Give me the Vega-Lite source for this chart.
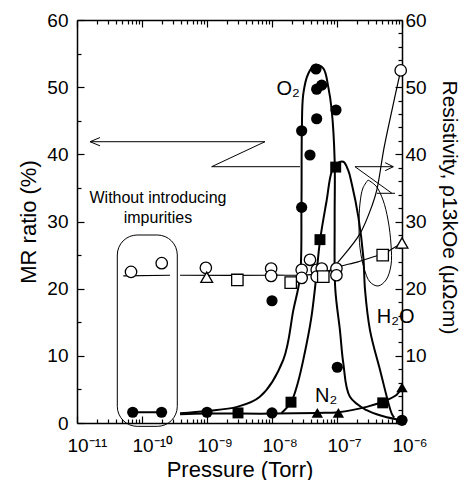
{
  "$schema": "https://vega.github.io/schema/vega-lite/v6.json",
  "width": 325,
  "height": 403,
  "autosize": {"type": "none"},
  "padding": {"left": 77, "top": 20, "right": 59, "bottom": 57},
  "background": "white",
  "config": {
    "view": {"stroke": null},
    "font": "Liberation Sans",
    "axis": {
      "grid": false,
      "domainColor": "black",
      "domainWidth": 1.5,
      "tickColor": "black",
      "tickWidth": 1.2,
      "labelColor": "black",
      "titleColor": "black",
      "labelFont": "Liberation Sans",
      "titleFont": "Liberation Sans",
      "labelFontSize": 19,
      "titleFontSize": 22,
      "titleFontWeight": "normal",
      "labelOverlap": false,
      "labelFlush": false
    }
  },
  "resolve": {"scale": {"x": "independent", "y": "independent"}},
  "datasets": {
    "pts": [
      {"s": "O2", "p": 7.2e-11, "v": 1.6},
      {"s": "O2", "p": 2.0e-10, "v": 1.6},
      {"s": "O2", "p": 1.0e-9, "v": 1.6},
      {"s": "O2", "p": 1.0e-8, "v": 1.5},
      {"s": "O2", "p": 1.0e-8, "v": 18.2},
      {"s": "O2", "p": 2.86e-8, "v": 32.1},
      {"s": "O2", "p": 3.84e-8, "v": 39.9},
      {"s": "O2", "p": 2.86e-8, "v": 43.5},
      {"s": "O2", "p": 4.87e-8, "v": 45.3},
      {"s": "O2", "p": 4.75e-8, "v": 52.7},
      {"s": "O2", "p": 5.82e-8, "v": 50.3},
      {"s": "O2", "p": 4.87e-8, "v": 49.7},
      {"s": "O2", "p": 9.65e-8, "v": 46.6},
      {"s": "O2", "p": 1.01e-7, "v": 8.3},
      {"s": "O2", "p": 1.0e-6, "v": 0.4},
      {"s": "H2O", "p": 3.0e-9, "v": 1.5},
      {"s": "H2O", "p": 1.96e-8, "v": 3.1},
      {"s": "H2O", "p": 5.47e-8, "v": 27.3},
      {"s": "H2O", "p": 9.55e-8, "v": 38.1},
      {"s": "H2O", "p": 5.05e-7, "v": 3.0},
      {"s": "N2", "p": 4.98e-8, "v": 1.5},
      {"s": "N2", "p": 1.05e-7, "v": 1.5},
      {"s": "N2", "p": 1.0e-6, "v": 5.3},
      {"s": "rO2", "p": 6.78e-11, "v": 22.5},
      {"s": "rO2", "p": 2.01e-10, "v": 23.8},
      {"s": "rO2", "p": 9.6e-10, "v": 23.1},
      {"s": "rO2", "p": 9.7e-9, "v": 23.0},
      {"s": "rO2", "p": 9.7e-9, "v": 21.9},
      {"s": "rO2", "p": 2.86e-8, "v": 22.8},
      {"s": "rO2", "p": 2.86e-8, "v": 21.6},
      {"s": "rO2", "p": 3.84e-8, "v": 24.3},
      {"s": "rO2", "p": 4.87e-8, "v": 22.8},
      {"s": "rO2", "p": 4.87e-8, "v": 21.8},
      {"s": "rO2", "p": 5.82e-8, "v": 23.0},
      {"s": "rO2", "p": 9.8e-8, "v": 23.0},
      {"s": "rO2", "p": 9.8e-8, "v": 22.0},
      {"s": "rO2", "p": 9.55e-7, "v": 52.5},
      {"s": "rH2O", "p": 2.93e-9, "v": 21.3},
      {"s": "rH2O", "p": 1.94e-8, "v": 20.9},
      {"s": "rH2O", "p": 6.15e-8, "v": 21.8},
      {"s": "rH2O", "p": 5.05e-7, "v": 25.0},
      {"s": "rN2", "p": 9.9e-10, "v": 21.7},
      {"s": "rN2", "p": 1.0e-6, "v": 26.8}
    ],
    "curves": [
      {"c": "O2a", "o": 1, "p": 6.15e-11, "v": 1.6},
      {"c": "O2a", "o": 2, "p": 2.0e-10, "v": 1.6},
      {"c": "O2", "o": 1, "p": 3.85e-10, "v": 1.45},
      {"c": "O2", "o": 2, "p": 9.9e-10, "v": 1.8},
      {"c": "O2", "o": 3, "p": 2.9e-9, "v": 2.4},
      {"c": "O2", "o": 4, "p": 6.5e-9, "v": 3.9},
      {"c": "O2", "o": 5, "p": 1.49e-8, "v": 9.4},
      {"c": "O2", "o": 6, "p": 2.13e-8, "v": 16.8},
      {"c": "O2", "o": 7, "p": 2.7e-8, "v": 21.8},
      {"c": "O2", "o": 8, "p": 2.84e-8, "v": 32.2},
      {"c": "O2", "o": 9, "p": 2.88e-8, "v": 43.6},
      {"c": "O2", "o": 10, "p": 3.03e-8, "v": 49.0},
      {"c": "O2", "o": 11, "p": 3.61e-8, "v": 52.0},
      {"c": "O2", "o": 12, "p": 4.59e-8, "v": 53.3},
      {"c": "O2", "o": 13, "p": 6.15e-8, "v": 52.8},
      {"c": "O2", "o": 14, "p": 7.35e-8, "v": 50.0},
      {"c": "O2", "o": 15, "p": 8.28e-8, "v": 46.6},
      {"c": "O2", "o": 16, "p": 9.2e-8, "v": 39.1},
      {"c": "O2", "o": 17, "p": 9.2e-8, "v": 30.0},
      {"c": "O2", "o": 18, "p": 9.4e-8, "v": 20.0},
      {"c": "O2", "o": 19, "p": 1.11e-7, "v": 13.8},
      {"c": "O2", "o": 20, "p": 1.25e-7, "v": 8.9},
      {"c": "O2", "o": 21, "p": 1.58e-7, "v": 3.9},
      {"c": "O2", "o": 22, "p": 2.86e-7, "v": 1.9},
      {"c": "O2", "o": 23, "p": 5.15e-7, "v": 1.0},
      {"c": "O2", "o": 24, "p": 1.0e-6, "v": 0.4},
      {"c": "N2", "o": 1, "p": 3.85e-10, "v": 1.3},
      {"c": "N2", "o": 2, "p": 1.0e-9, "v": 1.4},
      {"c": "N2", "o": 3, "p": 1.0e-8, "v": 1.4},
      {"c": "N2", "o": 4, "p": 5.0e-8, "v": 1.5},
      {"c": "N2", "o": 5, "p": 1.05e-7, "v": 1.6},
      {"c": "N2", "o": 6, "p": 2.86e-7, "v": 2.4},
      {"c": "N2", "o": 7, "p": 5.15e-7, "v": 3.2},
      {"c": "N2", "o": 8, "p": 8.3e-7, "v": 4.2},
      {"c": "N2", "o": 9, "p": 1.0e-6, "v": 5.3},
      {"c": "H2O", "o": 1, "p": 1.4e-8, "v": 1.5},
      {"c": "H2O", "o": 2, "p": 1.96e-8, "v": 3.1},
      {"c": "H2O", "o": 3, "p": 2.5e-8, "v": 6.0},
      {"c": "H2O", "o": 4, "p": 3.2e-8, "v": 10.5},
      {"c": "H2O", "o": 5, "p": 4.0e-8, "v": 15.5},
      {"c": "H2O", "o": 6, "p": 4.7e-8, "v": 21.0},
      {"c": "H2O", "o": 7, "p": 5.5e-8, "v": 27.3},
      {"c": "H2O", "o": 8, "p": 6.95e-8, "v": 33.2},
      {"c": "H2O", "o": 9, "p": 8.28e-8, "v": 37.4},
      {"c": "H2O", "o": 10, "p": 9.9e-8, "v": 38.6},
      {"c": "H2O", "o": 11, "p": 1.25e-7, "v": 38.9},
      {"c": "H2O", "o": 12, "p": 1.49e-7, "v": 37.6},
      {"c": "H2O", "o": 13, "p": 1.68e-7, "v": 35.7},
      {"c": "H2O", "o": 14, "p": 2.13e-7, "v": 30.7},
      {"c": "H2O", "o": 15, "p": 2.54e-7, "v": 24.7},
      {"c": "H2O", "o": 16, "p": 2.7e-7, "v": 19.8},
      {"c": "H2O", "o": 17, "p": 3.22e-7, "v": 13.8},
      {"c": "H2O", "o": 18, "p": 4.59e-7, "v": 7.9},
      {"c": "H2O", "o": 19, "p": 6.95e-7, "v": 1.4},
      {"c": "H2O", "o": 20, "p": 7.6e-7, "v": 0.8},
      {"c": "R1a", "o": 1, "p": 5.15e-11, "v": 21.9},
      {"c": "R1a", "o": 2, "p": 2.7e-10, "v": 22.0},
      {"c": "R1", "o": 1, "p": 3.85e-10, "v": 22.0},
      {"c": "R1", "o": 2, "p": 1.0e-8, "v": 22.0},
      {"c": "R1", "o": 3, "p": 4.0e-8, "v": 22.1},
      {"c": "R1", "o": 4, "p": 7.0e-8, "v": 22.6},
      {"c": "R1", "o": 5, "p": 1.0e-7, "v": 23.2},
      {"c": "R1", "o": 6, "p": 2.1e-7, "v": 24.0},
      {"c": "R1", "o": 7, "p": 4.1e-7, "v": 24.9},
      {"c": "R1", "o": 8, "p": 5.05e-7, "v": 25.1},
      {"c": "R1", "o": 9, "p": 7.0e-7, "v": 25.9},
      {"c": "R1", "o": 10, "p": 1.0e-6, "v": 26.8},
      {"c": "RO2", "o": 1, "p": 6.5e-8, "v": 21.8},
      {"c": "RO2", "o": 2, "p": 1.11e-7, "v": 24.3},
      {"c": "RO2", "o": 3, "p": 2.26e-7, "v": 28.2},
      {"c": "RO2", "o": 4, "p": 3.5e-7, "v": 32.5},
      {"c": "RO2", "o": 5, "p": 4.1e-7, "v": 34.7},
      {"c": "RO2", "o": 6, "p": 5.3e-7, "v": 41.0},
      {"c": "RO2", "o": 7, "p": 6.8e-7, "v": 46.0},
      {"c": "RO2", "o": 8, "p": 9.55e-7, "v": 52.5}
    ],
    "annot": [
      {"g": "A1", "o": 1, "p": 1.585e-11, "v": 41.88},
      {"g": "A1", "o": 2, "p": 7.8e-9, "v": 41.88},
      {"g": "A2", "o": 1, "p": 2.26e-11, "v": 42.5},
      {"g": "A2", "o": 2, "p": 1.585e-11, "v": 41.88},
      {"g": "A2", "o": 3, "p": 2.26e-11, "v": 41.26},
      {"g": "A3", "o": 1, "p": 7.8e-9, "v": 41.88},
      {"g": "A3", "o": 2, "p": 1.18e-9, "v": 38.16},
      {"g": "A3", "o": 3, "p": 2.7e-8, "v": 38.16},
      {"g": "B1", "o": 1, "p": 1.89e-7, "v": 38.16},
      {"g": "B1", "o": 2, "p": 7.35e-7, "v": 38.16},
      {"g": "B2", "o": 1, "p": 5.5e-7, "v": 38.76},
      {"g": "B2", "o": 2, "p": 7.35e-7, "v": 38.16},
      {"g": "B2", "o": 3, "p": 5.5e-7, "v": 37.56},
      {"g": "B3", "o": 1, "p": 1.89e-7, "v": 38.16},
      {"g": "B3", "o": 2, "p": 7.0e-7, "v": 34.2},
      {"g": "B4", "o": 1, "p": 4.12e-7, "v": 34.2},
      {"g": "B4", "o": 2, "p": 7.8e-7, "v": 34.2}
    ],
    "ellipse": [
      {"o": 1, "p": 3.0e-7, "v": 36.18},
      {"o": 2, "p": 3.98e-7, "v": 35.29},
      {"o": 3, "p": 5.1e-7, "v": 33.2},
      {"o": 4, "p": 6.1e-7, "v": 30.22},
      {"o": 5, "p": 6.78e-7, "v": 26.5},
      {"o": 6, "p": 6.78e-7, "v": 23.52},
      {"o": 7, "p": 5.68e-7, "v": 21.29},
      {"o": 8, "p": 4.28e-7, "v": 20.4},
      {"o": 9, "p": 3.22e-7, "v": 20.99},
      {"o": 10, "p": 2.6e-7, "v": 23.08},
      {"o": 11, "p": 2.26e-7, "v": 26.05},
      {"o": 12, "p": 2.18e-7, "v": 29.48},
      {"o": 13, "p": 2.26e-7, "v": 32.75},
      {"o": 14, "p": 2.51e-7, "v": 34.99},
      {"o": 15, "p": 3.0e-7, "v": 36.18}
    ],
    "box": [{"p": 4.17e-11, "p2": 3.49e-10, "v": 27.99, "v2": -0.5}],
    "gas": [
      {"t": "O₂", "p": 1.17e-8, "v": 48.8},
      {"t": "H₂O", "p": 4.08e-7, "v": 14.9},
      {"t": "N₂", "p": 4.6e-8, "v": 3.17}
    ],
    "note": [
      {"t": "Without introducing", "p": 1.76e-10, "v": 32.7},
      {"t": "impurities", "p": 1.76e-10, "v": 29.85}
    ]
  },
  "layer": [
    {
      "data": {"name": "curves"},
      "transform": [{"filter": "indexof(['O2a','O2','N2','H2O'], datum.c) >= 0"}],
      "mark": {"type": "line", "color": "black", "strokeWidth": 2, "interpolate": "catmull-rom"},
      "encoding": {
        "x": {"field": "p", "type": "quantitative", "scale": {"type": "log", "domain": [1e-11, 1e-6], "nice": false},
          "axis": {
            "orient": "bottom",
            "values": [1e-11,2e-11,3e-11,4e-11,5e-11,6e-11,7e-11,8e-11,9e-11,1e-10,2e-10,3e-10,4e-10,5e-10,6e-10,7e-10,8e-10,9e-10,1e-9,2e-9,3e-9,4e-9,5e-9,6e-9,7e-9,8e-9,9e-9,1e-8,2e-8,3e-8,4e-8,5e-8,6e-8,7e-8,8e-8,9e-8,1e-7,2e-7,3e-7,4e-7,5e-7,6e-7,7e-7,8e-7,9e-7,1e-6],
            "labelExpr": "abs(log(datum.value)/LN10 - round(log(datum.value)/LN10)) < 0.01 ? '10' + ['⁻¹¹','⁻¹⁰','⁻⁹','⁻⁸','⁻⁷','⁻⁶'][round(log(datum.value)/LN10) + 11] : ''",
            "tickSize": {"condition": {"test": "abs(log(datum.value)/LN10 - round(log(datum.value)/LN10)) < 0.01", "value": -7}, "value": -4},
            "labelPadding": 20,
            "labelAlign": "left",
            "labelOffset": -10,
            "title": "Pressure (Torr)",
            "titleY": 36,
            "titleBaseline": "top"
          }},
        "y": {"field": "v", "type": "quantitative", "scale": {"domain": [0, 60], "nice": false, "zero": false},
          "axis": {
            "orient": "left",
            "values": [0,5,10,15,20,25,30,35,40,45,50,55,60],
            "labelExpr": "datum.value % 10 === 0 ? datum.label : ''",
            "tickSize": {"condition": {"test": "datum.value % 10 === 0", "value": -7}, "value": -4},
            "labelPadding": 16,
            "title": "MR ratio (%)",
            "titleX": -49,
            "titleBaseline": "middle"
          }},
        "detail": {"field": "c"},
        "order": {"field": "o", "type": "quantitative"}
      }
    },
    {
      "data": {"name": "curves"},
      "transform": [{"filter": "indexof(['R1a','R1','RO2'], datum.c) >= 0"}],
      "mark": {"type": "line", "color": "black", "strokeWidth": 1.2, "interpolate": "catmull-rom"},
      "encoding": {
        "x": {"field": "p", "type": "quantitative", "scale": {"type": "log", "domain": [1e-11, 1e-6], "nice": false},
          "axis": {
            "orient": "top",
            "values": [1e-11,2e-11,3e-11,4e-11,5e-11,6e-11,7e-11,8e-11,9e-11,1e-10,2e-10,3e-10,4e-10,5e-10,6e-10,7e-10,8e-10,9e-10,1e-9,2e-9,3e-9,4e-9,5e-9,6e-9,7e-9,8e-9,9e-9,1e-8,2e-8,3e-8,4e-8,5e-8,6e-8,7e-8,8e-8,9e-8,1e-7,2e-7,3e-7,4e-7,5e-7,6e-7,7e-7,8e-7,9e-7,1e-6],
            "labels": false,
            "tickSize": {"condition": {"test": "abs(log(datum.value)/LN10 - round(log(datum.value)/LN10)) < 0.01", "value": -7}, "value": -4},
            "title": null
          }},
        "y": {"field": "v", "type": "quantitative", "scale": {"domain": [0, 60], "nice": false, "zero": false},
          "axis": {
            "orient": "right",
            "values": [0,2,4,6,8,10,12,14,16,18,20,22,24,26,28,30,32,34,36,38,40,42,44,46,48,50,52,54,56,58,60],
            "labelExpr": "datum.value % 10 === 0 && datum.value > 0 ? datum.label : ''",
            "tickSize": {"condition": {"test": "datum.value % 10 === 0", "value": -7}, "value": -4},
            "labelPadding": 10,
            "title": "Resistivity, ρ13kOe (μΩcm)",
            "titleFontSize": 21,
            "titleX": 46,
            "titleY": 187,
            "titleAngle": 90,
            "titleBaseline": "middle"
          }},
        "detail": {"field": "c"},
        "order": {"field": "o", "type": "quantitative"}
      }
    },
    {
      "data": {"name": "annot"},
      "mark": {"type": "line", "color": "black", "strokeWidth": 1},
      "encoding": {
        "x": {"field": "p", "type": "quantitative", "scale": {"type": "log", "domain": [1e-11, 1e-6], "nice": false}, "axis": null},
        "y": {"field": "v", "type": "quantitative", "scale": {"domain": [0, 60], "nice": false, "zero": false}, "axis": null},
        "detail": {"field": "g"},
        "order": {"field": "o", "type": "quantitative"}
      }
    },
    {
      "data": {"name": "ellipse"},
      "mark": {"type": "line", "color": "black", "strokeWidth": 1, "interpolate": "catmull-rom"},
      "encoding": {
        "x": {"field": "p", "type": "quantitative", "scale": {"type": "log", "domain": [1e-11, 1e-6], "nice": false}, "axis": null},
        "y": {"field": "v", "type": "quantitative", "scale": {"domain": [0, 60], "nice": false, "zero": false}, "axis": null},
        "order": {"field": "o", "type": "quantitative"}
      }
    },
    {
      "data": {"name": "box"},
      "mark": {"type": "rect", "fill": null, "fillOpacity": 0, "stroke": "black", "strokeWidth": 1, "cornerRadius": 20},
      "encoding": {
        "x": {"field": "p", "type": "quantitative", "scale": {"type": "log", "domain": [1e-11, 1e-6], "nice": false}, "axis": null},
        "x2": {"field": "p2"},
        "y": {"field": "v", "type": "quantitative", "scale": {"domain": [0, 60], "nice": false, "zero": false}, "axis": null},
        "y2": {"field": "v2"}
      }
    },
    {
      "data": {"name": "pts"},
      "transform": [{"filter": "datum.s === 'rO2'"}],
      "mark": {"type": "point", "shape": "circle", "filled": true, "fill": "white", "stroke": "black", "strokeWidth": 1.3, "size": 130, "opacity": 1},
      "encoding": {
        "x": {"field": "p", "type": "quantitative", "scale": {"type": "log", "domain": [1e-11, 1e-6], "nice": false}, "axis": null},
        "y": {"field": "v", "type": "quantitative", "scale": {"domain": [0, 60], "nice": false, "zero": false}, "axis": null}
      }
    },
    {
      "data": {"name": "pts"},
      "transform": [{"filter": "datum.s === 'rH2O'"}],
      "mark": {"type": "point", "shape": "square", "filled": true, "fill": "white", "stroke": "black", "strokeWidth": 1.3, "size": 130, "opacity": 1},
      "encoding": {
        "x": {"field": "p", "type": "quantitative", "scale": {"type": "log", "domain": [1e-11, 1e-6], "nice": false}, "axis": null},
        "y": {"field": "v", "type": "quantitative", "scale": {"domain": [0, 60], "nice": false, "zero": false}, "axis": null}
      }
    },
    {
      "data": {"name": "pts"},
      "transform": [{"filter": "datum.s === 'rN2'"}],
      "mark": {"type": "point", "shape": "triangle-up", "filled": true, "fill": "white", "stroke": "black", "strokeWidth": 1.3, "size": 140, "opacity": 1},
      "encoding": {
        "x": {"field": "p", "type": "quantitative", "scale": {"type": "log", "domain": [1e-11, 1e-6], "nice": false}, "axis": null},
        "y": {"field": "v", "type": "quantitative", "scale": {"domain": [0, 60], "nice": false, "zero": false}, "axis": null}
      }
    },
    {
      "data": {"name": "pts"},
      "transform": [{"filter": "datum.s === 'O2'"}],
      "mark": {"type": "point", "shape": "circle", "filled": true, "fill": "black", "size": 125, "opacity": 1},
      "encoding": {
        "x": {"field": "p", "type": "quantitative", "scale": {"type": "log", "domain": [1e-11, 1e-6], "nice": false}, "axis": null},
        "y": {"field": "v", "type": "quantitative", "scale": {"domain": [0, 60], "nice": false, "zero": false}, "axis": null}
      }
    },
    {
      "data": {"name": "pts"},
      "transform": [{"filter": "datum.s === 'H2O'"}],
      "mark": {"type": "point", "shape": "square", "filled": true, "fill": "black", "size": 120, "opacity": 1},
      "encoding": {
        "x": {"field": "p", "type": "quantitative", "scale": {"type": "log", "domain": [1e-11, 1e-6], "nice": false}, "axis": null},
        "y": {"field": "v", "type": "quantitative", "scale": {"domain": [0, 60], "nice": false, "zero": false}, "axis": null}
      }
    },
    {
      "data": {"name": "pts"},
      "transform": [{"filter": "datum.s === 'N2'"}],
      "mark": {"type": "point", "shape": "triangle-up", "filled": true, "fill": "black", "size": 130, "opacity": 1},
      "encoding": {
        "x": {"field": "p", "type": "quantitative", "scale": {"type": "log", "domain": [1e-11, 1e-6], "nice": false}, "axis": null},
        "y": {"field": "v", "type": "quantitative", "scale": {"domain": [0, 60], "nice": false, "zero": false}, "axis": null}
      }
    },
    {
      "data": {"name": "gas"},
      "mark": {"type": "text", "align": "left", "baseline": "alphabetic", "fontSize": 20, "font": "Liberation Sans", "color": "black"},
      "encoding": {
        "x": {"field": "p", "type": "quantitative", "scale": {"type": "log", "domain": [1e-11, 1e-6], "nice": false}, "axis": null},
        "y": {"field": "v", "type": "quantitative", "scale": {"domain": [0, 60], "nice": false, "zero": false}, "axis": null},
        "text": {"field": "t"}
      }
    },
    {
      "data": {"name": "note"},
      "mark": {"type": "text", "align": "center", "baseline": "alphabetic", "fontSize": 16, "font": "Liberation Sans", "color": "black"},
      "encoding": {
        "x": {"field": "p", "type": "quantitative", "scale": {"type": "log", "domain": [1e-11, 1e-6], "nice": false}, "axis": null},
        "y": {"field": "v", "type": "quantitative", "scale": {"domain": [0, 60], "nice": false, "zero": false}, "axis": null},
        "text": {"field": "t"}
      }
    }
  ]
}
